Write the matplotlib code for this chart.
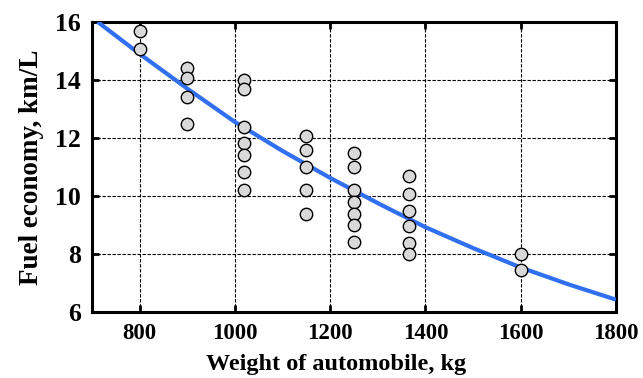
import matplotlib
matplotlib.use("Agg")
import matplotlib.pyplot as plt

# Measured vehicles: weight (kg) and fuel economy (km/L)
weight_kg = [800, 800,
             900, 900, 900, 900,
             1020, 1020, 1020, 1020, 1020, 1020, 1020,
             1150, 1150, 1150, 1150, 1150,
             1250, 1250, 1250, 1250, 1250, 1250, 1250,
             1365, 1365, 1365, 1365, 1365, 1365,
             1600, 1600]
economy_kml = [15.67, 15.06,
               14.40, 14.08, 13.40, 12.48,
               14.00, 13.68, 12.39, 11.82, 11.41, 10.82, 10.21,
               12.07, 11.59, 11.00, 10.21, 9.38,
               11.48, 11.01, 10.20, 9.80, 9.39, 8.99, 8.42,
               10.69, 10.07, 9.49, 8.97, 8.37, 8.00,
               7.99, 7.45]

# Fitted trend curve
trend_x = [712, 800, 900, 1000, 1100, 1200, 1300, 1400, 1500, 1600, 1700, 1800]
trend_y = [16.0, 14.9, 13.7, 12.55, 11.55, 10.62, 9.75, 8.92, 8.2, 7.53, 6.95, 6.42]

x_ticks = [800, 1000, 1200, 1400, 1600, 1800]
y_ticks = [6, 8, 10, 12, 14, 16]

plt.rcParams["font.family"] = ["Liberation Serif", "DejaVu Serif"]
plt.rcParams["font.weight"] = "bold"

fig = plt.figure(figsize=(6.43, 3.78), dpi=100)
ax = fig.add_axes([0.143, 0.175, 0.815, 0.767])

ax.plot(trend_x, trend_y, color="#2f6ff0", lw=3.0, zorder=3, solid_capstyle="butt")
ax.scatter(weight_kg, economy_kml, s=80, facecolor="#d9d9d9", edgecolor="black",
           linewidths=1.0, zorder=4)

ax.set_xlim(700, 1800)
ax.set_ylim(6, 16)
ax.set_xticks(x_ticks)
ax.set_yticks(y_ticks)
ax.grid(True, color="black", linestyle=(0, (3, 1.5)), linewidth=0.8)
ax.set_axisbelow(True)

for s in ax.spines.values():
    s.set_linewidth(2.2)
ax.tick_params(direction="in", length=5, width=2, top=True, right=True)
ax.tick_params(axis="x", labelsize=16.5, pad=8)
ax.tick_params(axis="y", labelsize=18.5, pad=8)
for lab in ax.get_xticklabels() + ax.get_yticklabels():
    lab.set_fontweight("bold")

ax.set_xlabel("Weight of automobile, kg", fontsize=17.5, fontweight="bold")
ax.xaxis.set_label_coords(0.466, -0.145)
ax.set_ylabel("Fuel economy, km/L", fontsize=19.5, fontweight="bold", labelpad=8)

fig.savefig("out.png", dpi=100)
